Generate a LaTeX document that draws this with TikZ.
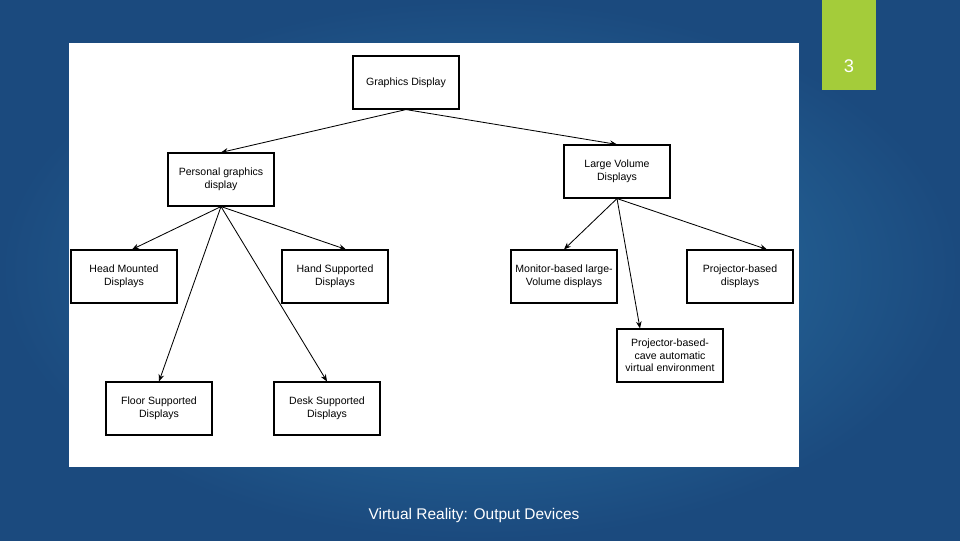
\documentclass[tikz,border=0pt]{standalone}
\usepackage{fontspec}
\setmainfont{Liberation Sans}
\usetikzlibrary{arrows.meta, shadows}
\definecolor{bgdark}{HTML}{1B4A7E}
\definecolor{bglight}{HTML}{2C78AA}
\definecolor{tabgreen}{HTML}{A4CC3A}
\tikzset{
    box/.style={draw, fill=white, thick, minimum width=106*0.025cm, minimum height=53*0.025cm,
        align=center, inner sep=1pt, font=\fontsize{7.5}{9}\selectfont,
        drop shadow={shadow xshift=0.6pt, shadow yshift=-0.6pt, opacity=1, fill=black}},
    link/.style={-{Stealth[length=5pt,width=4pt]}, semithick}
}
\begin{document}
\begin{tikzpicture}[x=0.025cm, y=-0.025cm]
    % background
    \shade[inner color=bglight, outer color=bgdark] (0,0) rectangle (960,540);
    \useasboundingbox (0,0) rectangle (960,540);
    \fill[tabgreen] (822,0) rectangle (876,90);
    \node[white, font=\fontsize{13}{15}\selectfont] (pg) at (849,66) {3};
    \fill[white] (69,43) rectangle (799,467);
    \node[white, font=\fontsize{11}{13}\selectfont] (ft) at (474,515) {Virtual Reality: Output Devices};
    % boxes
    \node[box] (gd) at (406,82.5) {Graphics Display};
    \node[box] (pgd) at (221,179.5) {Personal graphics\\display};
    \node[box] (lvd) at (617,171.5) {Large Volume\\Displays};
    \node[box] (hmd) at (124,276.5) {Head Mounted\\Displays};
    \node[box] (hsd) at (335,276.5) {Hand Supported\\Displays};
    \node[box] (mbd) at (564,276.5) {Monitor-based large-\\Volume displays};
    \node[box] (pbd) at (740,276.5) {Projector-based\\displays};
    \node[box] (cave) at (670,355.5) {Projector-based-\\cave automatic\\virtual environment};
    \node[box] (fsd) at (159,408.5) {Floor Supported\\Displays};
    \node[box] (dsd) at (327,408.5) {Desk Supported\\Displays};
    % links
    \draw[link] (gd.south) -- (pgd.north);
    \draw[link] (gd.south) -- (lvd.north);
    \draw[link] (pgd.south) -- ([xshift=8*0.025cm]hmd.north);
    \draw[link] (pgd.south) -- ([xshift=11*0.025cm]hsd.north);
    \draw[link] (pgd.south) -- (fsd.north);
    \draw[link] (pgd.south) -- (dsd.north);
    \draw[link] (lvd.south) -- (mbd.north);
    \draw[link] (lvd.south) -- ([xshift=27*0.025cm]pbd.north);
    \draw[link] (lvd.south) -- ([xshift=-30*0.025cm]cave.north);
\end{tikzpicture}
\end{document}
